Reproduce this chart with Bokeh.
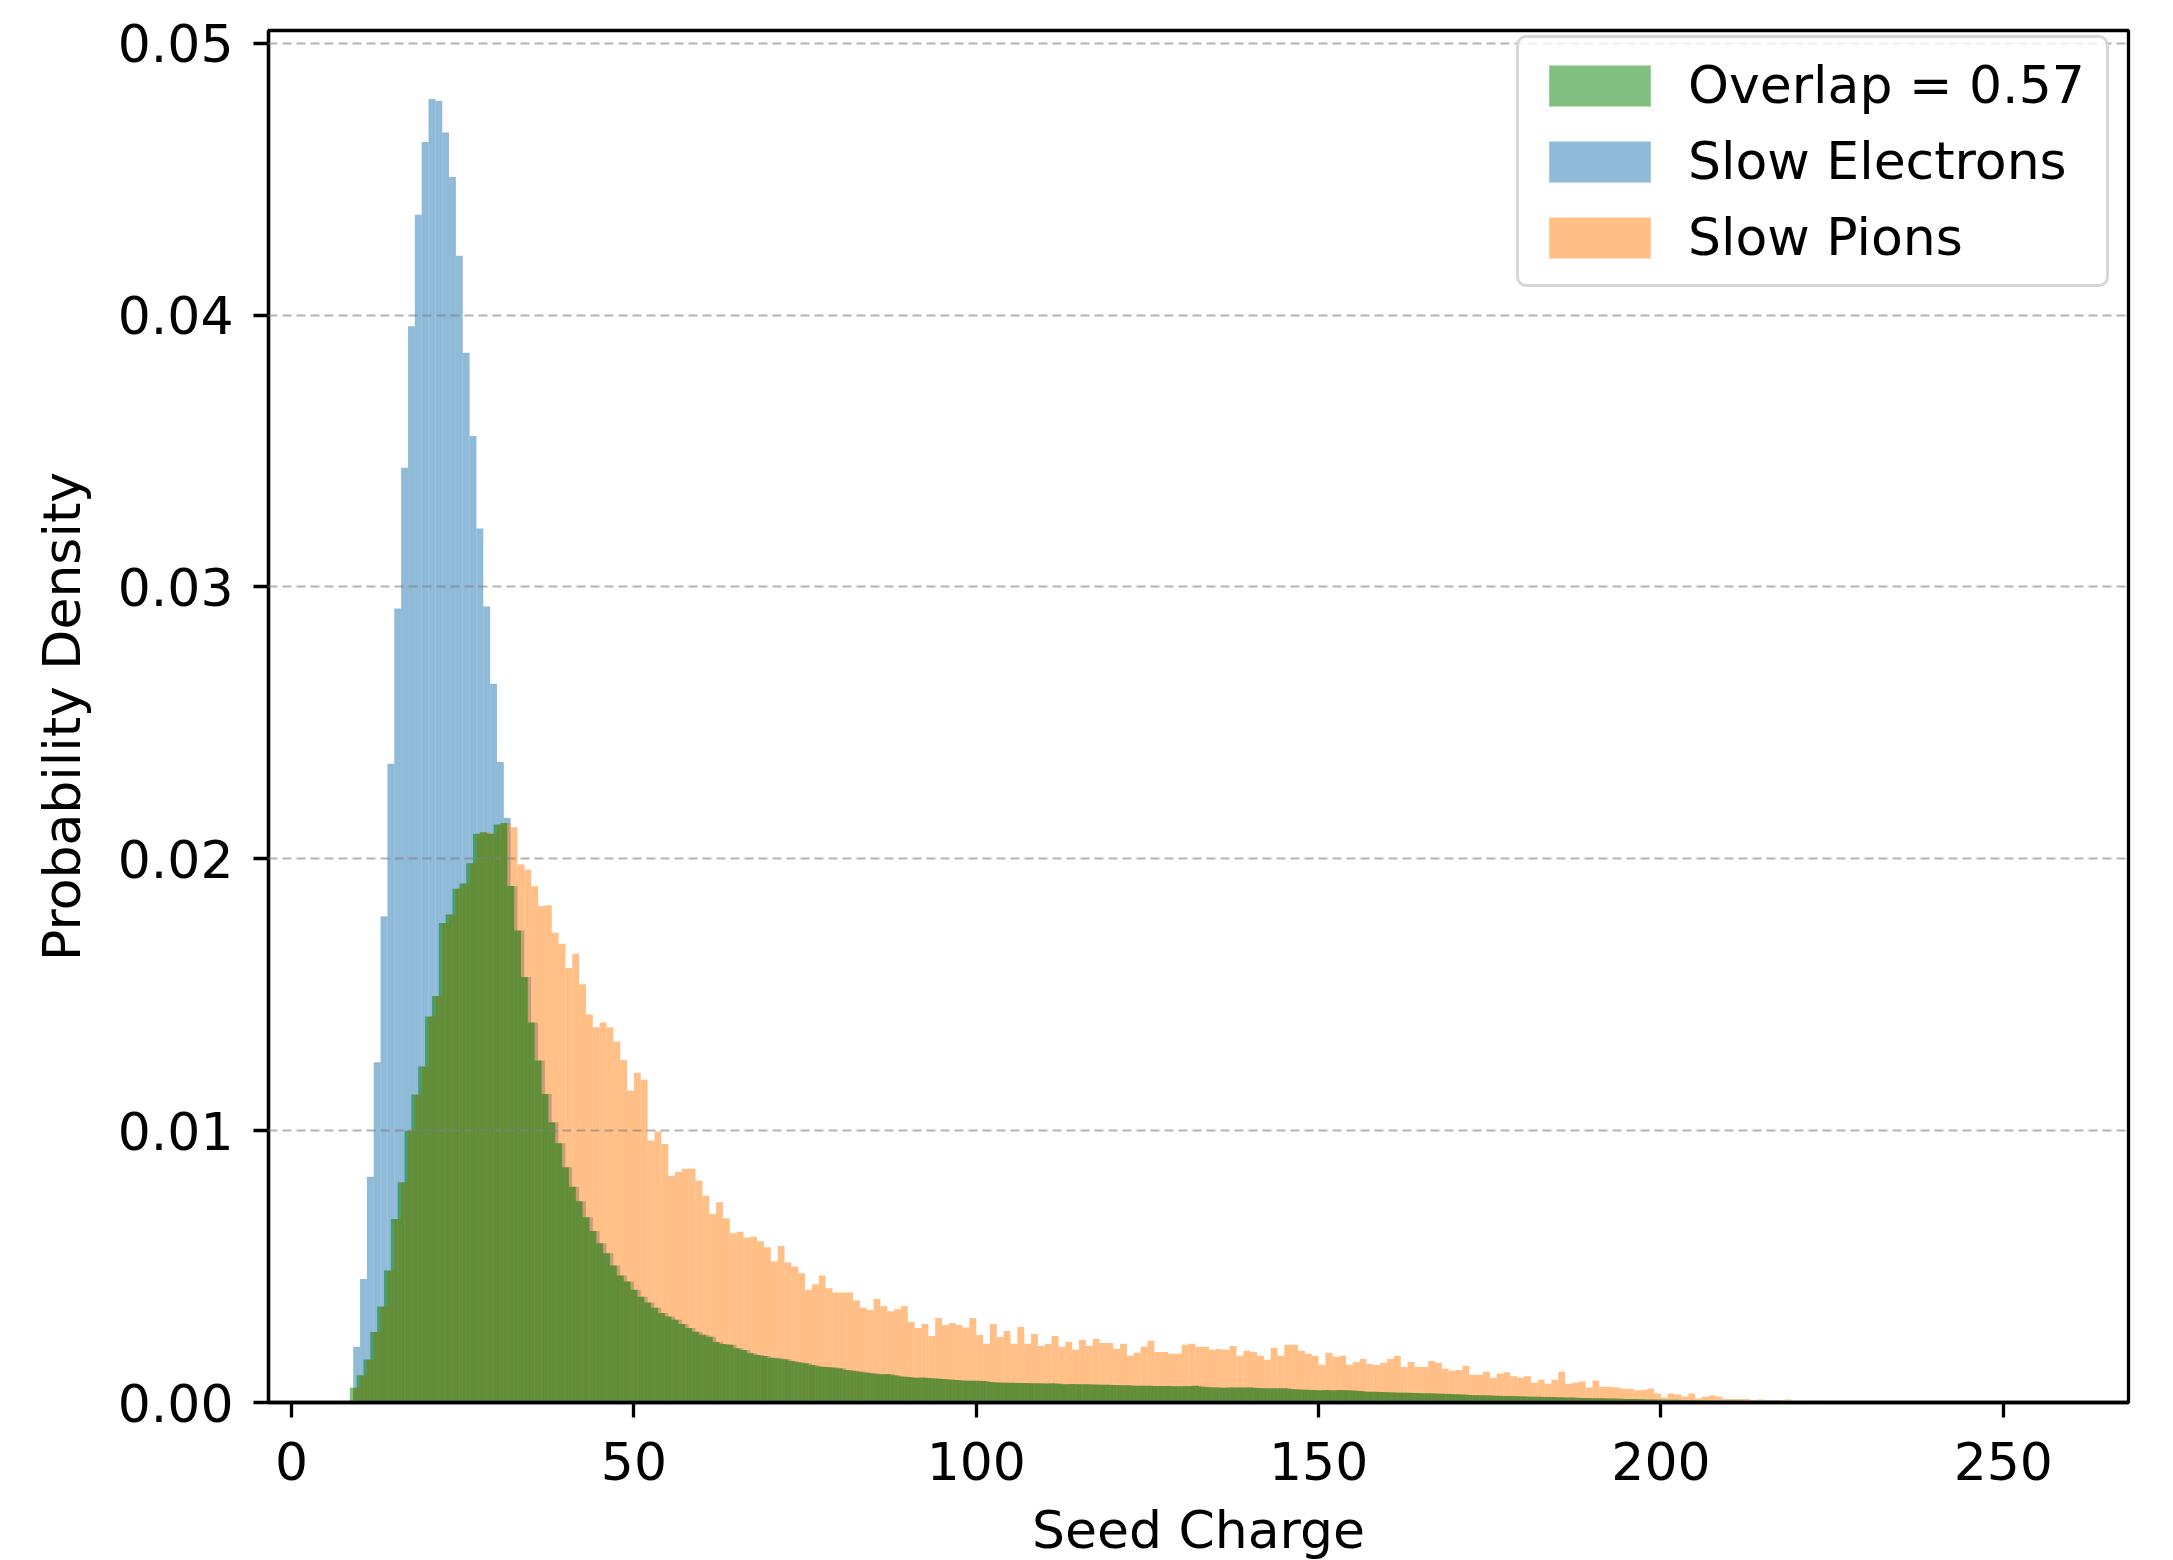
import numpy as np
from bokeh.plotting import figure
from bokeh.models import (Range1d, FixedTicker, PrintfTickFormatter, Legend,
                          LegendItem)
from bokeh.embed import file_html
from bokeh.resources import INLINE

# ---------------- data (probability density per unit-width bin) ----------------
first_bin_edge = 9.0
bin_width = 1.0

electron_density = [
    0.00205, 0.00454, 0.0083, 0.01252, 0.01789, 0.0235, 0.02921, 0.03439, 0.03959, 0.04369,
    0.04637, 0.04795, 0.04789, 0.04672, 0.04508, 0.04218, 0.03862, 0.03555, 0.03215, 0.02928,
    0.02644, 0.02356, 0.0215, 0.0190, 0.01736, 0.01565, 0.01398, 0.01258, 0.01135, 0.01031,
    0.00954, 0.00865, 0.00794, 0.0074, 0.00681, 0.00631, 0.00586, 0.00549, 0.00504, 0.00467,
    0.00445, 0.00415, 0.00389, 0.00368, 0.00349, 0.00329, 0.00316, 0.00304, 0.00289, 0.00274,
    0.0026, 0.00249, 0.00242, 0.00223, 0.00215, 0.00212, 0.002, 0.00193, 0.00181, 0.00175,
    0.00171, 0.00165, 0.00162, 0.00159, 0.00153, 0.00148, 0.00144, 0.00138, 0.00132, 0.00131,
    0.00129, 0.00126, 0.0012, 0.00117, 0.00113, 0.00109, 0.00107, 0.00104, 0.00105, 0.001,
    0.00096, 0.00094, 0.00091, 0.00092, 0.0009, 0.00088, 0.00086, 0.00085, 0.00083, 0.00081,
    0.0008, 0.0008, 0.00079, 0.00075, 0.00074, 0.00073, 0.00073, 0.00072, 0.00072, 0.00071,
    0.00071, 0.0007, 0.00071, 0.00069, 0.00067, 0.00068, 0.00067, 0.00067, 0.00066, 0.00065,
    0.00065, 0.00064, 0.00063, 0.00063, 0.00062, 0.00062, 0.00062, 0.00061, 0.00061, 0.00061,
    0.0006, 0.0006, 0.00061, 0.00062, 0.00058, 0.00056, 0.00055, 0.00054, 0.00055, 0.00055,
    0.00055, 0.00055, 0.00053, 0.00052, 0.00052, 0.00052, 0.00052, 0.0005, 0.00048, 0.00047,
    0.00046, 0.00045, 0.00046, 0.00045, 0.00046, 0.00045, 0.00044, 0.00042, 0.0004, 0.0004,
    0.00039, 0.00038, 0.00037, 0.00036, 0.00036, 0.00035, 0.00034, 0.00034, 0.00033, 0.00032,
    0.00031, 0.0003, 0.00029, 0.00028, 0.00027, 0.00027, 0.00026, 0.00025, 0.00024, 0.00024,
    0.00023, 0.00022, 0.00021, 0.00021, 0.0002, 0.0002, 0.00019, 0.00018, 0.00018, 0.00017,
    0.00017, 0.00016, 0.00016, 0.00015, 0.00015, 0.00014, 0.00013, 0.00013, 0.00012, 0.00011,
    0.00011, 0.0001, 0.0001, 0.0001, 0.00009, 0.00009, 0.00008, 0.00008, 0.00007, 0.00007,
    0.00007, 0.00007, 0.00007, 0.00006, 0.00006, 0.00006, 0.00006, 0.00006, 0.00006, 0.00005,
    0.00005, 0.00005, 0.00005, 0.00005, 0.00005, 0.00004, 0.00004, 0.00004, 0.00004, 0.00003,
    0.00003, 0.00003, 0.00003, 0.00002, 0.00002, 0.00002, 0.00002, 0.00001, 0.00001, 0.00001,
]

pion_density = [
    0.00054, 0.0010, 0.00158, 0.00259, 0.00353, 0.00486, 0.00675, 0.0081, 0.0100, 0.01133,
    0.01236, 0.0142, 0.01495, 0.01764, 0.01795, 0.0189, 0.01909, 0.01984, 0.02092, 0.02098,
    0.02092, 0.02126, 0.02132, 0.02116, 0.01979, 0.01961, 0.01899, 0.01826, 0.01829, 0.01728,
    0.01688, 0.01598, 0.01651, 0.01539, 0.01427, 0.0138, 0.01398, 0.0138, 0.01328, 0.0126,
    0.01148, 0.01212, 0.01187, 0.00964, 0.00997, 0.00951, 0.00834, 0.00849, 0.0086, 0.0086,
    0.00816, 0.00761, 0.00693, 0.00737, 0.00678, 0.00623, 0.00628, 0.00607, 0.0061, 0.00593,
    0.00571, 0.00519, 0.00576, 0.00515, 0.005, 0.00475, 0.00415, 0.00435, 0.00467, 0.0042,
    0.00405, 0.00405, 0.00405, 0.00375, 0.00349, 0.0034, 0.00381, 0.00354, 0.00336, 0.00343,
    0.00354, 0.00296, 0.00274, 0.00289, 0.00245, 0.00311, 0.00285, 0.00292, 0.00285, 0.00276,
    0.00311, 0.00248, 0.00216, 0.00289, 0.00241, 0.00263, 0.00216, 0.00278, 0.00216, 0.00252,
    0.00208, 0.00216, 0.00245, 0.00205, 0.00223, 0.00194, 0.0023, 0.00208, 0.00234, 0.00219,
    0.00219, 0.00197, 0.00216, 0.00172, 0.00183, 0.00205, 0.00227, 0.00186, 0.00186, 0.00179,
    0.00179, 0.00212, 0.00216, 0.00205, 0.00205, 0.00194, 0.00197, 0.00194, 0.00208, 0.00172,
    0.0019, 0.00186, 0.00172, 0.00157, 0.00201, 0.00172, 0.00212, 0.00212, 0.0019, 0.00179,
    0.00172, 0.00139, 0.00183, 0.00168, 0.00172, 0.00139, 0.00149, 0.0016, 0.00142, 0.00138,
    0.00146, 0.0016, 0.00171, 0.00131, 0.00149, 0.00131, 0.00131, 0.00153, 0.00146, 0.00124,
    0.00117, 0.0012, 0.00135, 0.00102, 0.00102, 0.00113, 0.00091, 0.00106, 0.00111, 0.00097,
    0.00091, 0.00097, 0.00073, 0.00084, 0.00069, 0.00084, 0.00113, 0.00069, 0.00073, 0.00077,
    0.00055, 0.0008, 0.00058, 0.00058, 0.00055, 0.00051, 0.00051, 0.00044, 0.00047, 0.00051,
    0.00033, 0.00018, 0.00033, 0.00029, 0.00022, 0.00033, 0.00015, 0.00021, 0.00026, 0.00021,
    0.00013, 0.00013, 0.00013, 0.00013, 0.00006, 0.00011, 0.00006, 0.00006, 0.00006, 0.00011,
    0.00005, 0.00005, 0.00005, 0.00007, 0.00003, 0.00004, 0.00003, 0.00002, 0.00003, 0.00002,
    0.00002, 0.00001, 0.00002, 0.00001, 0.00001, 0.00001, 0.0, 0.00001, 0.0, 0.00001,
]

overlap_label = "Overlap = 0.57"
series_labels = ["Slow Electrons", "Slow Pions"]
x_ticks = [0, 50, 100, 150, 200, 250]
y_ticks = [0.0, 0.01, 0.02, 0.03, 0.04, 0.05]

# ---------------- derived ----------------
e = np.array(electron_density)
pi = np.array(pion_density)
n = min(len(e), len(pi))
left = first_bin_edge + bin_width * np.arange(n)
right = left + bin_width
overlap = np.minimum(e[:n], pi[:n])
# overlap bars are centred on the left bin edges (bar default alignment)
ov_left = left - bin_width / 2
ov_right = ov_left + bin_width

FONT = "DejaVu Sans"
FS = "52px"

p = figure(frame_width=1860, frame_height=1372,
           x_range=Range1d(-3.37, 268.28), y_range=Range1d(0, 0.05047),
           output_backend="svg", toolbar_location=None,
           min_border_left=268, min_border_right=38, min_border_top=30,
           min_border_bottom=100, background_fill_color="white",
           border_fill_color="white")

r_e = p.quad(left=left, right=right, bottom=0, top=e[:n], fill_color="#1f77b4",
             fill_alpha=0.5, line_color=None)
r_p = p.quad(left=left, right=right, bottom=0, top=pi[:n], fill_color="#ff7f0e",
             fill_alpha=0.5, line_color=None)
r_o = p.quad(left=ov_left, right=ov_right, bottom=0, top=overlap, fill_color="#008000",
             fill_alpha=0.5, line_color=None)

# axes
p.xaxis.ticker = FixedTicker(ticks=x_ticks)
p.yaxis.ticker = FixedTicker(ticks=y_ticks)
p.yaxis.formatter = PrintfTickFormatter(format="%.2f")
p.xaxis.axis_label = "Seed Charge"
p.yaxis.axis_label = "Probability Density"
for ax in (p.xaxis, p.yaxis):
    ax.major_label_text_font = FONT
    ax.major_label_text_font_size = FS
    ax.major_label_text_color = "black"
    ax.axis_label_text_font = FONT
    ax.axis_label_text_font_size = FS
    ax.axis_label_text_font_style = "normal"
    ax.axis_label_text_color = "black"
    ax.axis_line_width = 3.3
    ax.axis_line_color = "black"
    ax.major_tick_line_width = 3.3
    ax.major_tick_line_color = "black"
    ax.major_tick_out = 15
    ax.major_tick_in = 0
    ax.minor_tick_line_color = None
p.xaxis.major_label_standoff = 24
p.xaxis.axis_label_standoff = 17
p.yaxis.major_label_standoff = 20
p.yaxis.axis_label_standoff = 23

p.outline_line_color = "black"
p.outline_line_width = 3.3
p.outline_line_alpha = 1.0

p.xgrid.visible = False
p.ygrid.ticker = FixedTicker(ticks=y_ticks)
p.ygrid.grid_line_color = "#808080"
p.ygrid.grid_line_alpha = 0.6
p.ygrid.grid_line_width = 2
p.ygrid.grid_line_dash = "9 5"
p.ygrid.level = "overlay"

legend = Legend(items=[LegendItem(label=overlap_label, renderers=[r_o]),
                       LegendItem(label=series_labels[0], renderers=[r_e]),
                       LegendItem(label=series_labels[1], renderers=[r_p])],
                location=(1248, 1115))
legend.label_text_font = FONT
legend.label_text_font_size = FS
legend.label_text_color = "black"
legend.glyph_width = 127
legend.glyph_height = 51
legend.label_height = 51
legend.label_width = 401
legend.label_standoff = 25
legend.spacing = 16
legend.padding = 17
legend.margin = 0
legend.border_line_color = "#cccccc"
legend.border_line_alpha = 0.8
legend.border_line_width = 3.3
legend.background_fill_color = "white"
legend.background_fill_alpha = 0.8
if "border_radius" in Legend.properties():
    legend.border_radius = 10
p.add_layout(legend)

open("out.html", "w").write(file_html(p, INLINE))
